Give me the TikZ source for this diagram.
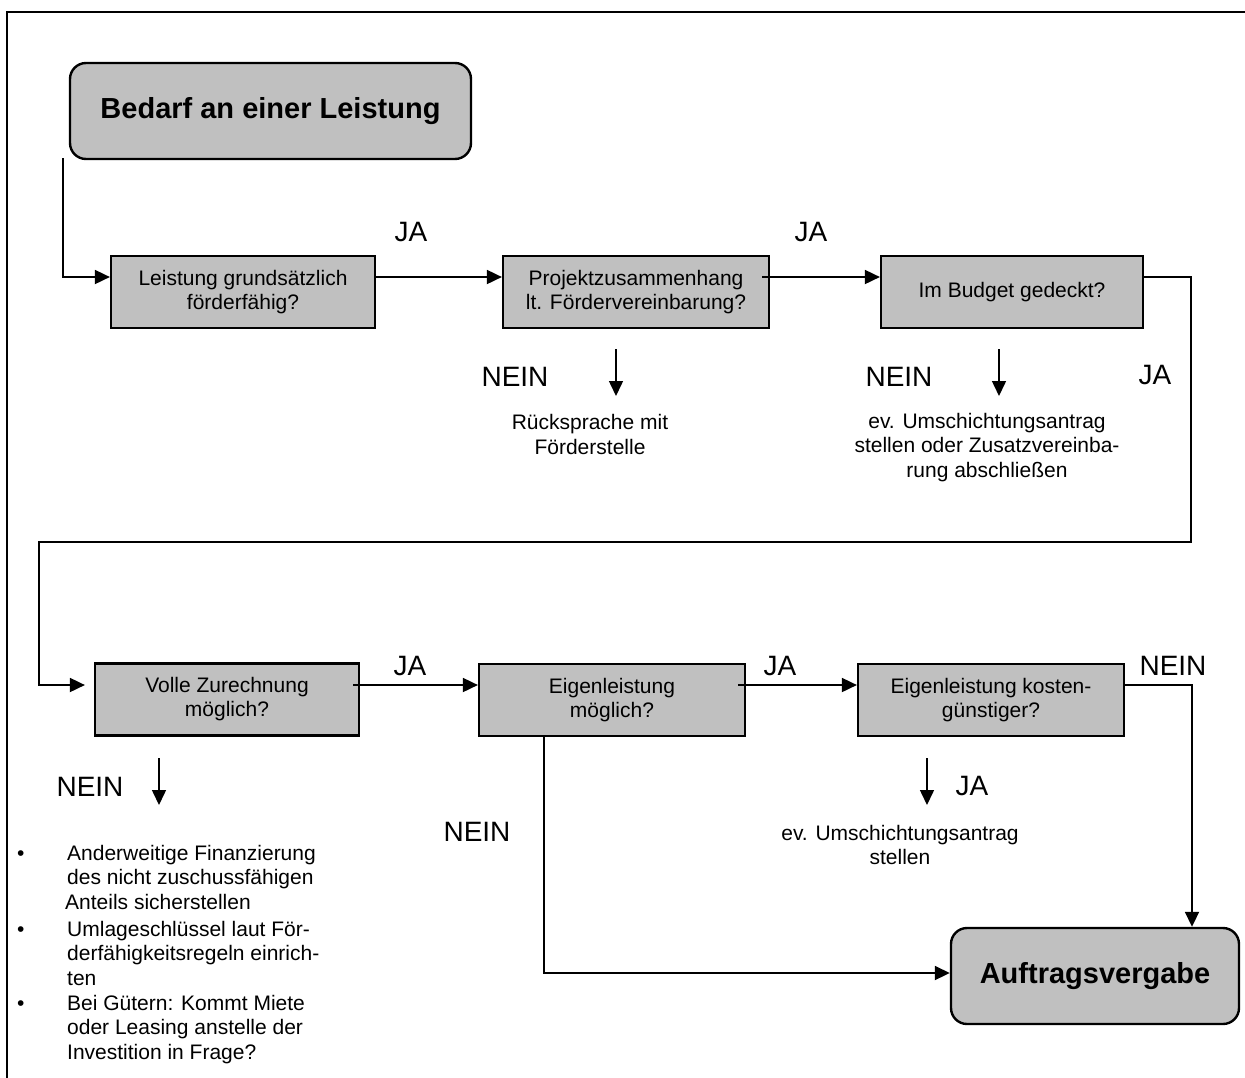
\documentclass[tikz,border=0pt]{standalone}
\usepackage{fontspec}
\setmainfont{Liberation Sans}
\usetikzlibrary{arrows.meta}
\definecolor{boxgray}{HTML}{C0C0C0}
\begin{document}
\begin{tikzpicture}[x=1pt,y=-1pt,
  conn/.style={line width=1.8pt,-{Triangle[length=15pt,width=14pt]}},
  thinarr/.style={line width=1.5pt,-{Triangle[length=15pt,width=14pt]}},
  qbox/.style={draw,line width=2.2pt,fill=boxgray,minimum width=#1,minimum height=72pt,
    align=center,font=\fontsize{21}{24}\selectfont,inner sep=0pt},
  qbox/.default=264pt,
  rbox/.style={draw,line width=2.4pt,fill=boxgray,rounded corners=16pt,minimum width=#1,
    minimum height=96pt,align=center,font=\fontsize{29}{34}\selectfont\bfseries,inner sep=0pt},
  lab/.style={font=\fontsize{28}{32}\selectfont,inner sep=0pt},
  txt/.style={font=\fontsize{21}{24.5}\selectfont,align=center,inner sep=0pt},
  btxt/.style={font=\fontsize{21}{24.5}\selectfont,inner sep=0pt,anchor=base west},
]
\useasboundingbox (0,0) rectangle (1245,1077);
% outer frame (partly cut)
\draw[line width=2pt] (7,1090) -- (7,12) -- (1260,12);

% nodes
\node[rbox=401pt] (start) at (270.5,111) {Bedarf an einer Leistung};
\node[qbox=264pt] (b1) at (243,292) {Leistung grundsätzlich\\förderfähig?};
\node[qbox=266pt] (b2) at (636,292) {Projektzusammenhang\\lt. Fördervereinbarung?};
\node[qbox=262pt] (b3) at (1012,292) {Im Budget gedeckt?};
\node[qbox=264pt] (b4) at (227,699.5) {Volle Zurechnung\\möglich?};
\node[qbox=266pt] (b5) at (612,700) {Eigenleistung\\möglich?};
\node[qbox=266pt] (b6) at (991,700) {Eigenleistung kosten-\\günstiger?};
\node[rbox=288pt] (end) at (1095,976) {Auftragsvergabe};

% helper coordinates
\coordinate (c0) at (63,158);
\coordinate (r1) at (0,277);
\coordinate (r1b) at (1191,277);
\coordinate (r1c) at (1191,542);
\coordinate (r1d) at (39,542);
\coordinate (r2) at (0,685);
\coordinate (r2b) at (1192,685);
\coordinate (e1) at (544,973);

% connectors row 1
\draw[conn] (c0) |- (b1.west |- r1);
\draw[conn] (b1.east |- r1) -- (b2.west |- r1);
\draw[conn] ([xshift=-8pt]b2.east |- r1) -- (b3.west |- r1);
\draw[conn,shorten >=9pt] (b3.east |- r1) -- (r1b) -- (r1c) -- (r1d) |- (b4.west |- r2);
% connectors row 2
\draw[conn] ([xshift=-7pt]b4.east |- r2) -- (b5.west |- r2);
\draw[conn] ([xshift=-8pt]b5.east |- r2) -- (b6.west |- r2);
\draw[conn] (b6.east |- r2) -- (r2b) -- (end.north -| r2b);
\draw[conn] (b5.south -| e1) -- (e1) -- (end.west |- e1);

% NEIN / JA small arrows
\coordinate (a1s) at (616,349); \coordinate (a1e) at (616,396);
\coordinate (a2s) at (999,349); \coordinate (a2e) at (999,396);
\coordinate (a3s) at (159,758); \coordinate (a3e) at (159,805);
\coordinate (a4s) at (927,758); \coordinate (a4e) at (927,805);
\draw[thinarr] (a1s) -- (a1e);
\draw[thinarr] (a2s) -- (a2e);
\draw[thinarr] (a3s) -- (a3e);
\draw[thinarr] (a4s) -- (a4e);

% labels
\node[lab] (ja1) at (411,232) {JA};
\node[lab] (ja2) at (811,232) {JA};
\node[lab] (ja3) at (1155,375) {JA};
\node[lab] (nein1) at (515,377) {NEIN};
\node[lab] (nein2) at (899,377) {NEIN};
\node[lab] (ja4) at (410,666) {JA};
\node[lab] (ja5) at (780,666) {JA};
\node[lab] (nein3) at (1173,666) {NEIN};
\node[lab] (nein4) at (90,787) {NEIN};
\node[lab] (nein5) at (477,832) {NEIN};
\node[lab] (ja6) at (972,786) {JA};

% free texts
\node[txt] (t1) at (590,434.5) {Rücksprache mit\\Förderstelle};
\node[txt] (t2) at (987,447.5) {ev. Umschichtungsantrag\\stellen oder Zusatzvereinba-\\rung abschließen};
\node[txt] (t3) at (900,845) {ev. Umschichtungsantrag\\stellen};

% bullet list
\node[btxt] (bu1) at (17,860) {•};
\node[btxt] (bu2) at (17,936) {•};
\node[btxt] (bu3) at (17,1010) {•};
\node[btxt] (l1) at (67,860) {Anderweitige Finanzierung};
\node[btxt] (l2) at (67,884.5) {des nicht zuschussfähigen};
\node[btxt] (l3) at (65,909) {Anteils sicherstellen};
\node[btxt] (l4) at (67,936) {Umlageschlüssel laut För-};
\node[btxt] (l5) at (67,960.5) {derfähigkeitsregeln einrich-};
\node[btxt] (l6) at (67,985) {ten};
\node[btxt] (l7) at (67,1010) {Bei Gütern: Kommt Miete};
\node[btxt] (l8) at (67,1034.5) {oder Leasing anstelle der};
\node[btxt] (l9) at (67,1059) {Investition in Frage?};
\end{tikzpicture}
\end{document}
